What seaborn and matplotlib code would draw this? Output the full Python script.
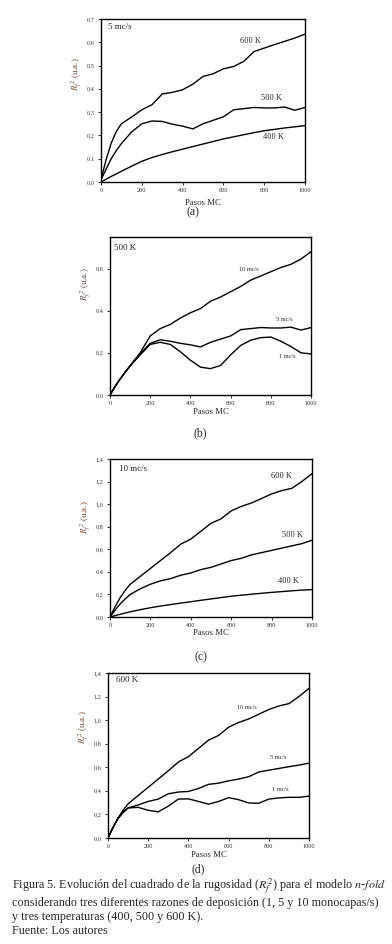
import numpy as np
import pandas as pd
import matplotlib
matplotlib.use("Agg")
import matplotlib.pyplot as plt
import seaborn as sns
from matplotlib.ticker import FuncFormatter, MultipleLocator

sns.set_style("ticks")
plt.rcParams["font.family"] = ["Liberation Serif", "DejaVu Serif"]
plt.rcParams["mathtext.fontset"] = "stix"

# ---------------- data ----------------
pasos = [0, 25, 50, 75, 100, 150, 200, 250, 300, 350, 400, 450, 500,
         550, 600, 650, 700, 750, 800, 850, 900, 950, 1000]

# (a) 5 mc/s
a_600 = [0.01, 0.096, 0.167, 0.217, 0.25, 0.279, 0.31, 0.332, 0.378, 0.385, 0.396, 0.42,
         0.453, 0.465, 0.486, 0.496, 0.518, 0.56, 0.575, 0.59, 0.604, 0.618, 0.635]
a_500 = [0.01, 0.055, 0.1, 0.135, 0.165, 0.215, 0.25, 0.262, 0.26, 0.248, 0.24, 0.228,
         0.25, 0.265, 0.28, 0.31, 0.315, 0.32, 0.318, 0.318, 0.322, 0.308, 0.32]
a_400 = [0.0, 0.012, 0.024, 0.035, 0.046, 0.068, 0.089, 0.105, 0.118, 0.13, 0.141, 0.152,
         0.163, 0.174, 0.185, 0.194, 0.203, 0.212, 0.22, 0.226, 0.232, 0.237, 0.242]

# (b) 500 K
b_10 = [0.0, 0.04, 0.075, 0.108, 0.138, 0.2, 0.28, 0.315, 0.335, 0.365, 0.39, 0.41,
        0.445, 0.465, 0.49, 0.515, 0.545, 0.565, 0.585, 0.605, 0.62, 0.645, 0.68]
b_5 = [0.0, 0.04, 0.075, 0.108, 0.138, 0.195, 0.245, 0.262, 0.255, 0.245, 0.238, 0.228,
       0.25, 0.265, 0.28, 0.31, 0.315, 0.32, 0.318, 0.318, 0.322, 0.308, 0.32]
b_1 = [0.0, 0.04, 0.075, 0.108, 0.138, 0.19, 0.24, 0.25, 0.24, 0.205, 0.165, 0.132,
       0.125, 0.14, 0.19, 0.235, 0.26, 0.272, 0.275, 0.255, 0.23, 0.2, 0.195]

# (c) 10 mc/s
c_600 = [0.0, 0.09, 0.17, 0.235, 0.29, 0.36, 0.43, 0.5, 0.57, 0.645, 0.69, 0.76,
         0.83, 0.87, 0.94, 0.98, 1.01, 1.05, 1.09, 1.12, 1.14, 1.2, 1.27]
c_500 = [0.0, 0.06, 0.115, 0.16, 0.2, 0.25, 0.29, 0.32, 0.34, 0.37, 0.39, 0.42,
         0.44, 0.47, 0.5, 0.52, 0.55, 0.57, 0.59, 0.61, 0.63, 0.65, 0.68]
c_400 = [0.0, 0.012, 0.024, 0.035, 0.046, 0.065, 0.082, 0.097, 0.11, 0.123, 0.135, 0.148,
         0.16, 0.172, 0.184, 0.193, 0.202, 0.21, 0.218, 0.225, 0.232, 0.238, 0.243]

# (d) 600 K
d_10 = [0.0, 0.09, 0.17, 0.235, 0.29, 0.36, 0.43, 0.5, 0.57, 0.645, 0.69, 0.76,
        0.83, 0.87, 0.94, 0.98, 1.01, 1.05, 1.09, 1.12, 1.14, 1.2, 1.27]
d_5 = [0.0, 0.09, 0.165, 0.215, 0.255, 0.28, 0.31, 0.33, 0.375, 0.39, 0.395, 0.42,
       0.455, 0.465, 0.485, 0.5, 0.52, 0.56, 0.575, 0.59, 0.605, 0.618, 0.635]
d_1 = [0.0, 0.09, 0.165, 0.22, 0.255, 0.26, 0.235, 0.222, 0.27, 0.33, 0.332, 0.31,
       0.287, 0.31, 0.342, 0.325, 0.297, 0.295, 0.33, 0.34, 0.345, 0.345, 0.355]

panels = [
    dict(pos=[0.2577, 0.8072, 0.5204, 0.1727], series=[a_600, a_500, a_400],
         names=["600 K", "500 K", "400 K"], labxy=[(731, 0.604), (833, 0.359), (846, 0.193)],
         labsize=6, tag="5 mc/s", tagxy=(93, 0.665), ylim=0.7, ystep=0.1,
         ylab_y=0.66, xlab_y=-0.13, cap="(a)", cap_y=-0.185, ycol="#7a4b3a"),
    dict(pos=[0.2806, 0.5816, 0.5128, 0.1674], series=[b_10, b_5, b_1],
         names=["10 mc/s", "5 mc/s", "1 mc/s"], labxy=[(689, 0.596), (867, 0.356), (880, 0.182)],
         labsize=4.5, tag="500 K", tagxy=(75, 0.696), ylim=0.75, ystep=0.2,
         ylab_y=0.70, xlab_y=-0.11, cap="(b)", cap_y=-0.24, ycol="#5a4d48"),
    dict(pos=[0.2806, 0.3464, 0.5153, 0.1674], series=[c_600, c_500, c_400],
         names=["600 K", "500 K", "400 K"], labxy=[(848, 1.25), (903, 0.73), (883, 0.32)],
         labsize=6, tag="10 mc/s", tagxy=(115, 1.31), ylim=1.4, ystep=0.2,
         ylab_y=0.63, xlab_y=-0.10, cap="(c)", cap_y=-0.255, ycol="#7a4b3a"),
    dict(pos=[0.2755, 0.1123, 0.5128, 0.1748], series=[d_10, d_5, d_1],
         names=["10 mc/s", "5 mc/s", "1 mc/s"], labxy=[(689, 1.108), (846, 0.686), (855, 0.408)],
         labsize=4.5, tag="600 K", tagxy=(94, 1.34), ylim=1.4, ystep=0.2,
         ylab_y=0.67, xlab_y=-0.105, cap="(d)", cap_y=-0.19, ycol="#7a4b3a"),
]

fig = plt.figure(figsize=(3.92, 9.44), dpi=100)
fig.patch.set_facecolor("white")

comma = FuncFormatter(lambda v, p: f"{v:.1f}".replace(".", ","))

for p in panels:
    ax = fig.add_axes(p["pos"])
    for ser, name in zip(p["series"], p["names"]):
        df = pd.DataFrame({"Pasos": pasos, "R2": ser})
        sns.lineplot(data=df, x="Pasos", y="R2", ax=ax, color="black", linewidth=1.0)
    for name, (lx, ly) in zip(p["names"], p["labxy"]):
        ax.text(lx, ly, name, fontsize=p["labsize"], ha="center", va="center")
    ax.text(p["tagxy"][0], p["tagxy"][1], p["tag"], fontsize=6.5, ha="center", va="center")
    ax.set_xlim(0, 1000)
    ax.set_ylim(0, p["ylim"])
    ax.xaxis.set_major_locator(MultipleLocator(200))
    ax.yaxis.set_major_locator(MultipleLocator(p["ystep"]))
    ax.yaxis.set_major_formatter(comma)
    ax.tick_params(labelsize=4.5, length=2.5, width=0.7, pad=2, colors="#333333")
    for s in ax.spines.values():
        s.set_visible(True)
        s.set_linewidth(1.0)
        s.set_color("black")
    ax.set_xlabel("")
    ax.set_ylabel("")
    ax.text(0.5, p["xlab_y"], "Pasos MC", transform=ax.transAxes, fontsize=6.3,
            ha="center", va="center")
    ax.text(-0.12, p["ylab_y"], r"$R_f^{\,2}$ (u.a.)", transform=ax.transAxes,
            fontsize=6.5, rotation=90, ha="center", va="center", color=p["ycol"])
    ax.text(0.45, p["cap_y"], p["cap"], transform=ax.transAxes, fontsize=8.5,
            ha="center", va="center")

lines = [
    r"Figura 5. Evolución del cuadrado de la rugosidad ($R_f^{\,2}$) para el modelo $\mathit{n}$-$\mathit{fold}$",
    "considerando tres diferentes razones de deposición (1, 5 y 10 monocapas/s)",
    "y tres temperaturas (400, 500 y 600 K).",
    "Fuente: Los autores",
]
ys = [887, 903, 917, 931]
for t, y in zip(lines, ys):
    fig.text(12 / 392, 1 - y / 944, t, fontsize=8.75, ha="left", va="center")

fig.savefig("out.png", dpi=100)
